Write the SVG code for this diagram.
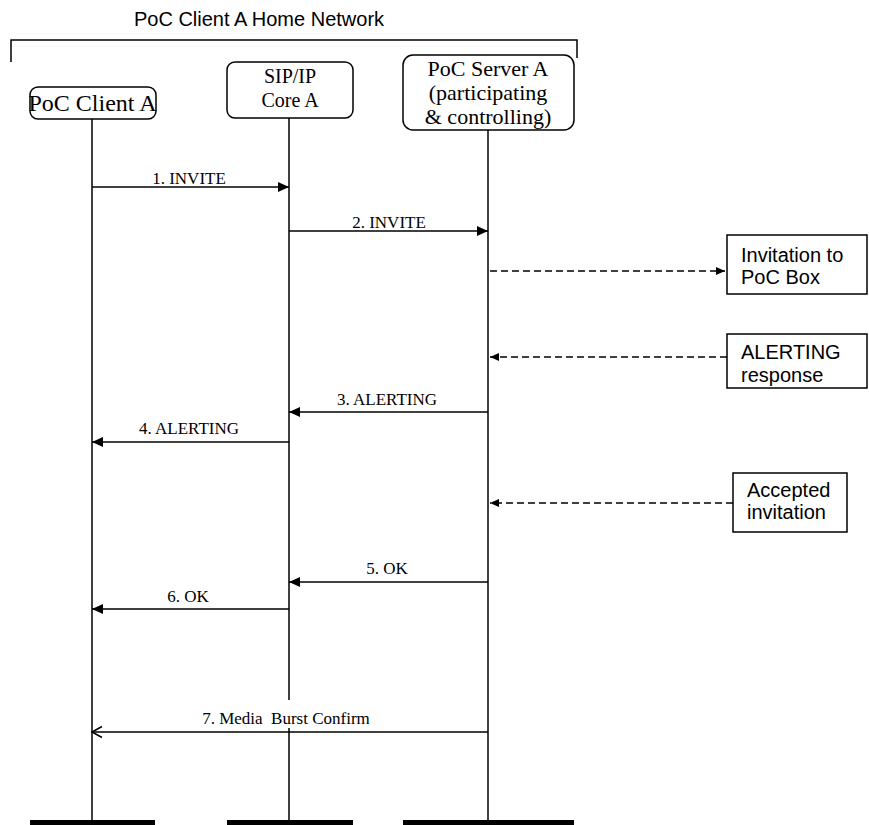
<svg xmlns="http://www.w3.org/2000/svg" width="869" height="825" viewBox="0 0 869 825">
<style>
.ln{stroke:#000;stroke-width:1.5;fill:none}
.dash{stroke:#000;stroke-width:1.5;fill:none;stroke-dasharray:7,4}
.box{fill:#fff;stroke:#000;stroke-width:1.5}
.bar{fill:#000}
.tm{font-family:"Liberation Serif","Times New Roman",serif;fill:#000}
.ar{font-family:"Liberation Sans",Arial,sans-serif;fill:#000;font-size:20px}
.msg{font-family:"Liberation Serif","Times New Roman",serif;font-size:17px;text-anchor:middle;white-space:pre;fill:#000}
</style>
<defs>
<marker id="fa" markerUnits="userSpaceOnUse" markerWidth="12" markerHeight="12" refX="11" refY="6" orient="auto"><path d="M0,1 L11,6 L0,11 z" fill="#000"/></marker>
<marker id="sa" markerUnits="userSpaceOnUse" markerWidth="10" markerHeight="10" refX="9" refY="5" orient="auto"><path d="M0,1 L9,5 L0,9 z" fill="#000"/></marker>
<marker id="oa" markerUnits="userSpaceOnUse" markerWidth="14" markerHeight="14" refX="11" refY="7" orient="auto"><path d="M1,1.5 L11,7 L1,12.5" fill="none" stroke="#000" stroke-width="1.5"/></marker>
</defs>

<g id="network">
<text class="ar" x="259" y="26" text-anchor="middle" font-size="21">PoC Client A Home Network</text>
<path class="ln" d="M11,62 V40 H577 V58"/>
</g>

<g id="clientA">
<rect class="box" x="30" y="87" width="126" height="32" rx="8"/>
<text class="tm" x="92.5" y="111" font-size="24" text-anchor="middle">PoC Client A</text>
<path class="ln" d="M92,119 V822"/>
<rect class="bar" x="30" y="820" width="125" height="5"/>
</g>

<g id="sipCore">
<rect class="box" x="227" y="62" width="126" height="56" rx="8"/>
<text class="tm" x="290" y="83" font-size="20" text-anchor="middle">SIP/IP</text>
<text class="tm" x="290" y="107" font-size="20" text-anchor="middle">Core A</text>
<path class="ln" d="M289,118 V700 M289,728 V822"/>
<rect class="bar" x="227" y="820" width="126" height="5"/>
</g>

<g id="serverA">
<rect class="box" x="403" y="55" width="171" height="75" rx="10"/>
<text class="tm" x="488" y="76" font-size="22" text-anchor="middle">PoC Server A</text>
<text class="tm" x="488" y="100" font-size="22" text-anchor="middle">(participating</text>
<text class="tm" x="488" y="124" font-size="22" text-anchor="middle">&amp; controlling)</text>
<path class="ln" d="M488,130 V822"/>
<rect class="bar" x="403" y="820" width="171" height="5"/>
</g>

<g id="invitationBox">
<rect class="box" x="727" y="235" width="140" height="59"/>
<text class="ar" x="741" y="262">Invitation to</text>
<text class="ar" x="741" y="284">PoC Box</text>
</g>

<g id="alertingBox">
<rect class="box" x="727" y="334" width="140" height="54"/>
<text class="ar" x="741" y="359">ALERTING</text>
<text class="ar" x="741" y="382">response</text>
</g>

<g id="acceptedBox">
<rect class="box" x="733" y="473" width="114" height="59"/>
<text class="ar" x="747" y="497">Accepted</text>
<text class="ar" x="747" y="519">invitation</text>
</g>

<g id="connectors">
<line class="ln" x1="92" y1="187" x2="289" y2="187" marker-end="url(#fa)"/>
<text class="msg" x="189" y="184">1. INVITE</text>
<line class="ln" x1="289" y1="231" x2="488" y2="231" marker-end="url(#fa)"/>
<text class="msg" x="389" y="228">2. INVITE</text>
<line class="dash" x1="490" y1="271" x2="725" y2="271" marker-end="url(#sa)"/>
<line class="dash" x1="727" y1="357" x2="490" y2="357" marker-end="url(#sa)"/>
<line class="ln" x1="488" y1="412" x2="289" y2="412" marker-end="url(#fa)"/>
<text class="msg" x="387" y="405">3. ALERTING</text>
<line class="ln" x1="289" y1="442" x2="92" y2="442" marker-end="url(#fa)"/>
<text class="msg" x="189" y="434">4. ALERTING</text>
<line class="dash" x1="733" y1="503" x2="490" y2="503" marker-end="url(#sa)"/>
<line class="ln" x1="488" y1="582" x2="289" y2="582" marker-end="url(#fa)"/>
<text class="msg" x="387" y="574">5. OK</text>
<line class="ln" x1="289" y1="609" x2="92" y2="609" marker-end="url(#fa)"/>
<text class="msg" x="188" y="602">6. OK</text>
<line class="ln" x1="488" y1="732" x2="92" y2="732" marker-end="url(#oa)"/>
<text class="msg" x="286" y="724">7. Media  Burst Confirm</text>
</g>
</svg>
